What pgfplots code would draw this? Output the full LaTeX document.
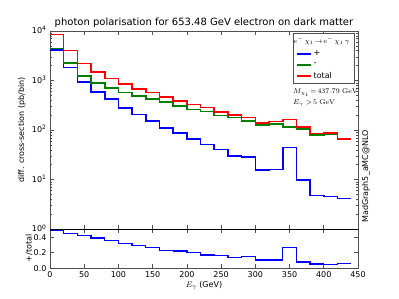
\documentclass[border=0pt]{standalone}
\usepackage[no-math]{fontspec}
\setmainfont{DejaVu Sans}
\usepackage{pgfplots}
\usepackage{pgfplotstable}
\pgfplotsset{compat=1.18}
\definecolor{mplgreen}{RGB}{0,128,0}
\definecolor{spine}{RGB}{80,80,80}

\pgfplotstableread{
x plus minus total ratio
0 4100 4400 8500 0.49
20 1850 2290 4070 0.45
40 946 1230 2220 0.417
60 594 903 1507 0.39
80 423 708 1107 0.36
100 282 576 851 0.32
120 207 486 673 0.294
140 151 423 576 0.264
160 111 368 471 0.23
180 88 305 391 0.22
200 67 262 331 0.20
220 51 239 287 0.17
240 41 198 234 0.16
260 30 180 204 0.135
280 29 154 180 0.153
300 15.5 128 141 0.106
320 16 132 150 0.106
340 45 117 164 0.27
360 9.8 106 115 0.08
380 4.8 80 85 0.055
400 4.6 84 88 0.052
420 4.2 65 67 0.057
440 4.2 65 67 0.057
}\data

\begin{document}
\begin{tikzpicture}
\path[use as bounding box] (0,0) rectangle (399pt,299pt);
\pgfplotsset{
  every axis/.append style={
    scale only axis,
    axis line style={spine, line width=0.9pt},
    tick style={spine, line width=0.6pt},
    tick align=inside,
    major tick length=4pt,
    minor tick length=2pt,
    ticklabel style={font=\fontsize{8}{9}\selectfont},
    xmin=0, xmax=450,
    xtick={0,50,100,150,200,250,300,350,400,450},
  }
}
% upper panel
\begin{axis}[
  at={(50pt,69.7pt)}, anchor=south west,
  width=308pt, height=198.3pt,
  ymode=log, ymin=1, ymax=10000,
  xticklabels={},
  ytick={1,10,100,1000,10000},
  yticklabels={10\textsuperscript{0},10\textsuperscript{1},10\textsuperscript{2},10\textsuperscript{3},10\textsuperscript{4}},
  yticklabel style={yshift=1pt},
  xtick pos=both, ytick pos=both,
  legend style={at={(rel axis cs:0.99,0.99)}, anchor=north east,
    draw=spine, line width=1pt, font=\fontsize{8}{9.5}\selectfont,
    inner xsep=3pt, inner ysep=2pt, row sep=1.5pt},
  legend cell align=left,
  legend image code/.code={\draw[#1, line width=1.6pt] (0pt,0pt) -- (14pt,0pt);},
]
\addlegendimage{empty legend}
\addlegendentry{\hspace{-20pt}\fontsize{7}{8}\selectfont$e^{-}\,\chi_1\!\rightarrow\!e^{-}\,\chi_1\,\gamma$}
\addplot[const plot, blue, line width=1.6pt] table[x=x,y=plus]{\data};
\addlegendentry{+}
\addplot[const plot, mplgreen, line width=1.6pt] table[x=x,y=minus]{\data};
\addlegendentry{-}
\addplot[const plot, red, line width=1.6pt] table[x=x,y=total]{\data};
\addlegendentry{total}
\end{axis}
% lower panel
\begin{axis}[
  at={(50pt,30.7pt)}, anchor=south west,
  width=308pt, height=39pt,
  ymin=0, ymax=0.5,
  ytick={0,0.2,0.4}, yticklabels={0.0,0.2,0.4},
  xticklabels={0,50,100,150,200,250,300,350,400,450},
  xtick pos=both, ytick pos=both,
]
\addplot[const plot, blue, line width=1.3pt] table[x=x,y=ratio]{\data};
\draw[black, line width=1.1pt] (rel axis cs:0,1) -- (rel axis cs:1,1);
\end{axis}
% texts
\node[font=\fontsize{10}{12}\selectfont] at (204pt,276pt) {photon polarisation for 653.48 GeV electron on dark matter};
\node[rotate=90, font=\fontsize{8}{9}\selectfont] at (22pt,169pt) {diff. cross-section (pb/bin)};
\node[rotate=90, font=\fontsize{8}{9}\selectfont] at (29pt,50.5pt) {+/total};
\node[font=\fontsize{8}{9}\selectfont] at (204pt,13.5pt) {$E_{\gamma}$ (GeV)};
\node[rotate=90, anchor=west, font=\fontsize{8}{9}\selectfont] at (366pt,73pt) {MadGraph5\_aMC@NLO};
\node[anchor=west, font=\fontsize{7.5}{9}\selectfont, inner sep=0pt] at (293pt,206.5pt) {$M_{\chi_1}\!=\!437.79\ \mathrm{GeV}$};
\node[anchor=west, font=\fontsize{7.5}{9}\selectfont, inner sep=0pt] at (293pt,195.5pt) {$E_{\gamma}>\!5\ \mathrm{GeV}$};
\end{tikzpicture}
\end{document}
